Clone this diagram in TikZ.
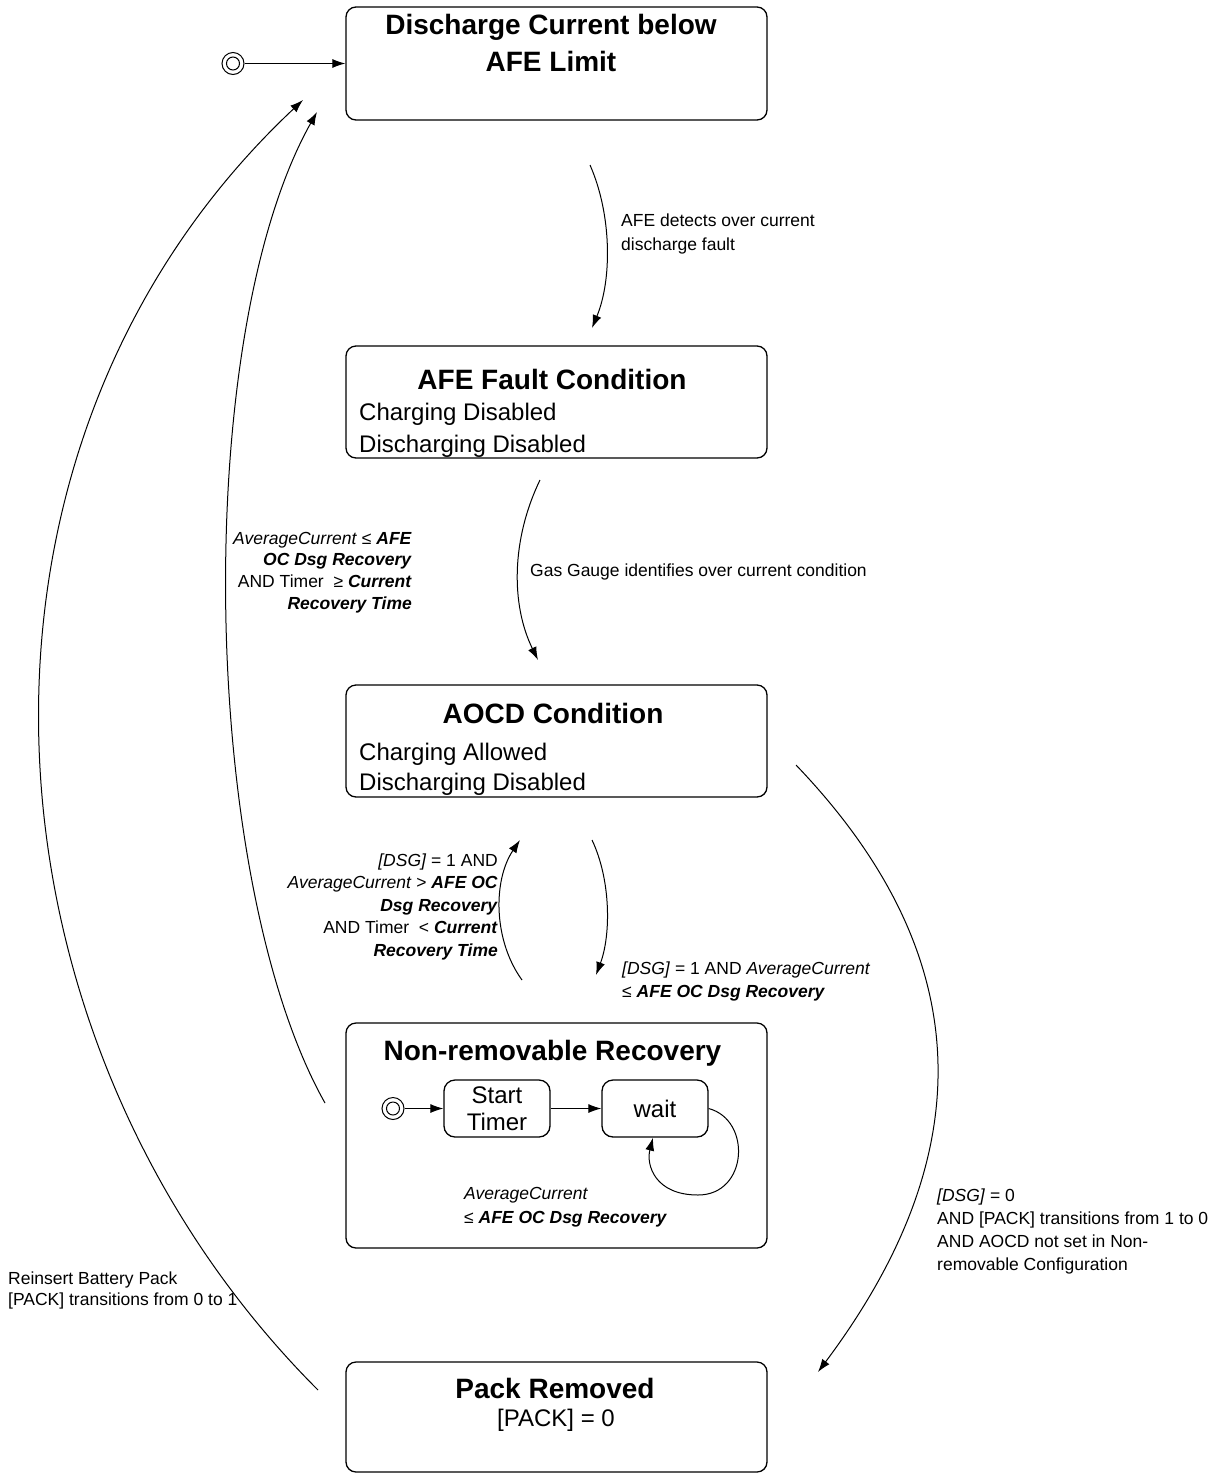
\documentclass[tikz,border=0pt]{standalone}
\usepackage{fontspec}
\setmainfont{Liberation Sans}
\usetikzlibrary{arrows.meta}
\newcommand\LinesL[2]{\vtop{\baselineskip=#1\relax\halign{##\hfil\cr#2\crcr}}}
\newcommand\LinesR[2]{\vtop{\baselineskip=#1\relax\halign{\hfil##\cr#2\crcr}}}
\newcommand\LinesC[2]{\vtop{\baselineskip=#1\relax\halign{\hfil##\hfil\cr#2\crcr}}}
\tikzset{
  state/.style={draw, line width=1.3pt, rounded corners=10pt, minimum width=421pt, inner sep=0pt},
  sub/.style={draw, line width=1.3pt, rounded corners=11pt, minimum width=106pt, minimum height=57pt, inner sep=0pt, font=\fontsize{24}{27}\selectfont, align=center},
  ttl/.style={font=\fontsize{28}{33}\selectfont\bfseries, inner sep=0pt, anchor=base},
  body/.style={font=\fontsize{24}{30}\selectfont, inner sep=0pt, anchor=base west},
  lbl/.style={font=\fontsize{17.5}{22}\selectfont, inner sep=0pt},
  conn/.style={line width=1pt, -{Latex[length=13pt,width=9pt]}},
  initst/.style={draw, circle, line width=1pt, minimum size=22pt, inner sep=0pt},
}
\begin{document}
\begin{tikzpicture}[x=1pt,y=-1pt]
\fill[white] (0,0) rectangle (1219,1473);
\useasboundingbox (0,0) rectangle (1219,1473);

% states
\node[state, minimum height=113pt] (b1) at (556.5,63.5) {};
\node[state, minimum height=112pt] (b2) at (556.5,402) {};
\node[state, minimum height=112pt] (b3) at (556.5,741) {};
\node[state, minimum height=225pt] (b4) at (556.5,1135.5) {};
\node[state, minimum height=110pt] (b5) at (556.5,1417) {};

% state texts
\node[ttl] (t1) at (551,34) {\LinesC{37pt}{Discharge Current below\cr AFE Limit}};
\node[ttl] (t2) at (552,389) {AFE Fault Condition};
\node[body] (d2) at (359,420) {\LinesL{32pt}{Charging Disabled\cr Discharging Disabled}};
\node[ttl] (t3) at (553,723) {AOCD Condition};
\node[body] (d3) at (359,760) {\LinesL{30pt}{Charging Allowed\cr Discharging Disabled}};
\node[ttl] (t4) at (552.5,1060) {Non-removable Recovery};
\node[ttl] (t5) at (555,1398) {Pack Removed};
\node[body, anchor=base] (d5) at (556,1426) {[PACK] = 0};

% initial state
\node[initst] (i0) at (233,63.5) {};
\draw[line width=1pt] (i0.center) circle (6.5);
\draw[conn] (i0) -- (b1);

% inner machine
\node[initst] (i1) at (393,1108.5) {};
\draw[line width=1pt] (i1.center) circle (6.5);
\node[sub] (st) at (497,1108.5) {Start\\Timer};
\node[sub] (wt) at (655,1108.5) {wait};
\draw[conn] (i1) -- (st);
\draw[conn] (st) -- (wt);
\draw[conn] (wt.east) .. controls (752,1120) and (748,1195) .. (698,1195)
  .. controls (655,1195) and (646,1165) .. ([xshift=-2pt]wt.south);
\node[lbl, anchor=base west] (l8) at (464,1199) {\LinesL{24pt}{\textit{AverageCurrent}\cr ≤ \textbf{\textit{AFE OC Dsg Recovery}}}};

% connector end points
\coordinate (c1a) at (590,165);  \coordinate (c1b) at (592,328);
\coordinate (c2a) at (540,480);  \coordinate (c2b) at (538,660);
\coordinate (c3a) at (592,840);  \coordinate (c3b) at (596,975);
\coordinate (c4a) at (522,980);  \coordinate (c4b) at (520,840);
\coordinate (c5a) at (796,765);  \coordinate (c5b) at (818,1372);
\coordinate (c6a) at (325,1103); \coordinate (c6b) at (317,112);
\coordinate (c7a) at (318,1390); \coordinate (c7b) at (303,100);

\draw[conn] (c1a) .. controls (612,215) and (612,280) .. (c1b);
\draw[conn] (c2a) .. controls (511,540) and (511,605) .. (c2b);
\draw[conn] (c3a) .. controls (611,880) and (611,935) .. (c3b);
\draw[conn] (c4a) .. controls (493,940) and (493,880) .. (c4b);
\draw[conn] (c5a) .. controls (998,976) and (963,1178) .. (c5b);
\draw[conn] (c6a) .. controls (199,879) and (191,336) .. (c6b);
\draw[conn] (c7a) .. controls (-32,1040) and (-68,448) .. (c7b);

% labels
\node[lbl, anchor=base west] (l1) at (621,226) {\LinesL{24pt}{AFE detects over current\cr discharge fault}};
\node[lbl, anchor=base west] (l2) at (530,576) {Gas Gauge identifies over current condition};
\node[lbl, anchor=base east] (l6) at (412,544) {\LinesR{21.7pt}{\textit{AverageCurrent} ≤ \textbf{\textit{AFE}}\cr \textbf{\textit{OC Dsg Recovery}}\cr AND Timer\ \ ≥ \textbf{\textit{Current}}\cr \textbf{\textit{Recovery Time}}}};
\node[lbl, anchor=base east] (l4) at (498,866) {\LinesR{22.5pt}{\textit{[DSG]} = 1 AND\cr \textit{AverageCurrent} > \textbf{\textit{AFE OC}}\cr \textbf{\textit{Dsg Recovery}}\cr AND Timer\ \ < \textbf{\textit{Current}}\cr \textbf{\textit{Recovery Time}}}};
\node[lbl, anchor=base west] (l3) at (622,974) {\LinesL{23pt}{\textit{[DSG]} = 1 AND \textit{AverageCurrent}\cr ≤ \textbf{\textit{AFE OC Dsg Recovery}}}};
\node[lbl, anchor=base west] (l5) at (937,1201) {\LinesL{23.3pt}{\textit{[DSG]} = 0\cr AND [PACK] transitions from 1 to 0\cr AND AOCD not set in Non-\cr removable Configuration}};
\node[lbl, anchor=base west] (l7) at (8,1284) {\LinesL{21pt}{Reinsert Battery Pack\cr [PACK] transitions from 0 to 1}};
\end{tikzpicture}
\end{document}
